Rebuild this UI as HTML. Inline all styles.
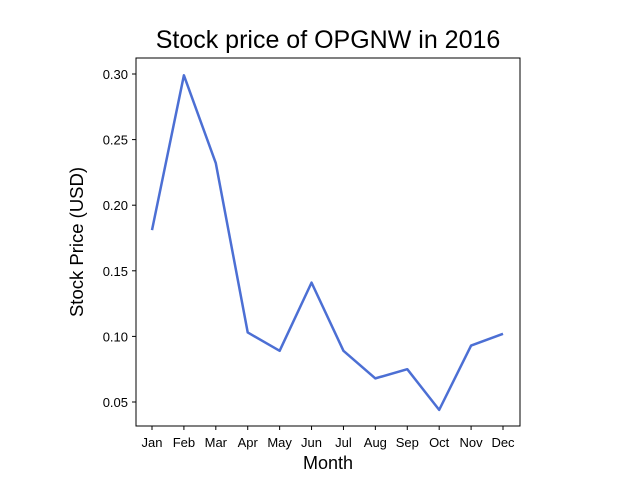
<!DOCTYPE html>
<html><head><meta charset="utf-8"><style>
body{margin:0;background:#fff;}
svg text{font-family:"Liberation Sans","DejaVu Sans",sans-serif;}
</style></head><body>
<svg id="chart" width="640" height="480" xmlns="http://www.w3.org/2000/svg">
<rect width="640" height="480" fill="#fff"/>
<text x="328" y="48" text-anchor="middle" font-size="25">Stock price of OPGNW in 2016</text>
<text x="328" y="469" text-anchor="middle" font-size="18">Month</text>
<text transform="translate(83,242) rotate(-90)" text-anchor="middle" font-size="18.5">Stock Price (USD)</text>
<g id="ticks"></g>
<path id="line" fill="none" stroke="#4c6fd4" stroke-width="2.5" stroke-linejoin="round"/>
<rect x="136" y="58" width="384" height="368" fill="none" stroke="#000" stroke-width="1"/>
</svg>
<script>
const months=["Jan","Feb","Mar","Apr","May","Jun","Jul","Aug","Sep","Oct","Nov","Dec"];
const prices=[0.181,0.299,0.232,0.103,0.089,0.141,0.089,0.068,0.075,0.044,0.093,0.102];
const yTicks=[0.05,0.10,0.15,0.20,0.25,0.30];
const yTickLabels=["0.05","0.10","0.15","0.20","0.25","0.30"];
function xs(i){return 152+i*(503-152)/11;}
function ys(v){return 402-(v-0.05)*(328/0.25);}
const NS="http://www.w3.org/2000/svg";
const g=document.getElementById('ticks');
months.forEach((m,i)=>{
 const l=document.createElementNS(NS,'line');
 l.setAttribute('x1',xs(i));l.setAttribute('x2',xs(i));l.setAttribute('y1',426);l.setAttribute('y2',430);l.setAttribute('stroke','#000');
 
 
 g.appendChild(l);
 const t=document.createElementNS(NS,'text');
 t.setAttribute('x',xs(i));t.setAttribute('y',447);t.setAttribute('text-anchor','middle');t.setAttribute('font-size','13');
 t.textContent=m;
 
 
 g.appendChild(t);
});
yTicks.forEach((v,i)=>{
 const l=document.createElementNS(NS,'line');
 l.setAttribute('x1',132);l.setAttribute('x2',136);l.setAttribute('y1',ys(v));l.setAttribute('y2',ys(v));l.setAttribute('stroke','#000');
 
 
 g.appendChild(l);
 const t=document.createElementNS(NS,'text');
 t.setAttribute('x',128);t.setAttribute('y',ys(v)+5);t.setAttribute('text-anchor','end');t.setAttribute('font-size','13');
 t.textContent=yTickLabels[i];
 
 
 g.appendChild(t);
});
document.getElementById('line').setAttribute('d',prices.map((p,i)=>(i?'L':'M')+xs(i)+' '+ys(p)).join(' '));
</script>
</body></html>
